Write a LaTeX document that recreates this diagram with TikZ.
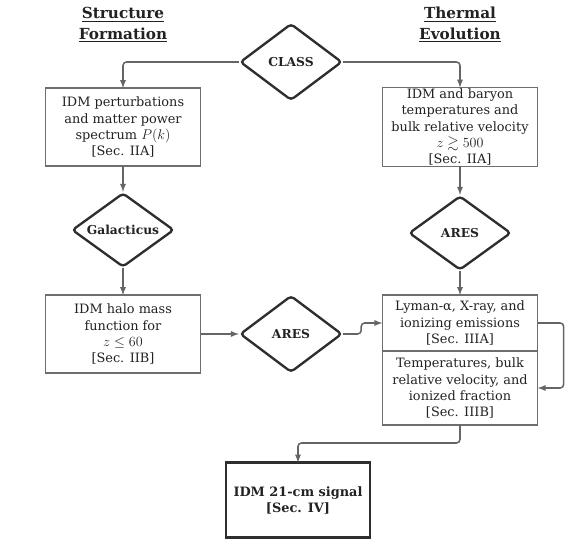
\documentclass[tikz,border=0pt]{standalone}
\usepackage{amssymb}
\usepackage{fontspec}
\setmainfont{DejaVu Serif}
\usetikzlibrary{positioning,shapes.geometric}
\definecolor{linegray}{HTML}{656565}
\definecolor{boxgray}{HTML}{6E6E6E}
\definecolor{darkline}{HTML}{2E2E2E}
\definecolor{txt}{HTML}{222222}
\newcommand{\bigmath}[1]{{\fontsize{12.5}{13.7}\selectfont$#1$}}

\begin{document}
\begin{tikzpicture}[x=0.3mm, y=-0.3mm,
  box/.style = {draw=boxgray, line width=1.3pt, fill=white, align=center,
    inner sep=0pt, outer sep=0pt, text=txt, font=\fontsize{11}{13.7}\selectfont,
    minimum width=46.6mm},
  dia/.style = {diamond, draw=darkline, line width=2pt, rounded corners=3pt,
    inner sep=1pt, aspect=1.3, text=txt,
    font=\fontsize{10.5}{12}\selectfont\bfseries,
    minimum width=30.6mm, minimum height=23mm},
  head/.style = {align=center, text=txt, font=\fontsize{13}{17.5}\selectfont\bfseries},
  arr/.style = {line width=1.3pt, draw=linegray, -latex, rounded corners=3pt}
  ]
  \useasboundingbox (0,0) rectangle (581,552);

  \node[head] (hstruct) at (123,25) {\underline{Structure}\\\underline{Formation}};
  \node[head] (htherm)  at (460,25) {\underline{Thermal}\\\underline{Evolution}};

  \node[dia] (class) at (291,62) {CLASS};

  \node[box, minimum height=23.4mm] (pert) at (123,127)
    {IDM perturbations\\and matter power\\spectrum \bigmath{P(k)}\\{}[Sec. IIA]};
  \node[dia, minimum height=22.2mm] (galac) at (123,230) {Galacticus};
  \node[box, minimum height=23.4mm] (halo) at (123,334)
    {IDM halo mass\\function for\\\bigmath{z \leq 60}\\{}[Sec. IIB]};

  \node[box, minimum height=23.7mm] (baryon) at (460,127)
    {IDM and baryon\\temperatures and\\bulk relative velocity\\\bigmath{z \gtrsim 500}\\{}[Sec. IIA]};
  \node[dia, minimum height=22.2mm] (ares2) at (460,233) {ARES};
  \node[dia] (ares1) at (291,334) {ARES};

  \node[box, minimum height=16.8mm] (emis) at (460,323)
    {Lyman-α, X-ray, and\\ionizing emissions\\{}[Sec. IIIA]};
  \node[box, minimum height=22.2mm, below=0pt of emis] (temps)
    {Temperatures, bulk\\relative velocity, and\\ionized fraction\\{}[Sec. IIIB]};

  \node[box, draw=darkline, line width=2.2pt, minimum width=43.2mm,
    minimum height=22.5mm, font=\fontsize{11}{13.7}\selectfont\bfseries] (signal)
    at (298,500) {IDM 21-cm signal\\{}[Sec. IV]};

  \draw [arr] (class.west) -| (pert);
  \draw [arr] (class.east) -| (baryon);
  \draw [arr] (pert) -- (galac);
  \draw [arr] (galac) -- (halo);
  \draw [arr] (halo) -- (ares1);
  \draw [arr] (baryon) -- (ares2);
  \draw [arr] (ares2) -- (emis);
  \draw [arr] (ares1.east) -- ++(18,0) |- (emis.west);
  \draw [arr] (emis.east) -- ++(26,0) |- (temps.east);
  \draw [arr] (temps.south) -- ++(0,18) -| (signal.north);
\end{tikzpicture}
\end{document}
